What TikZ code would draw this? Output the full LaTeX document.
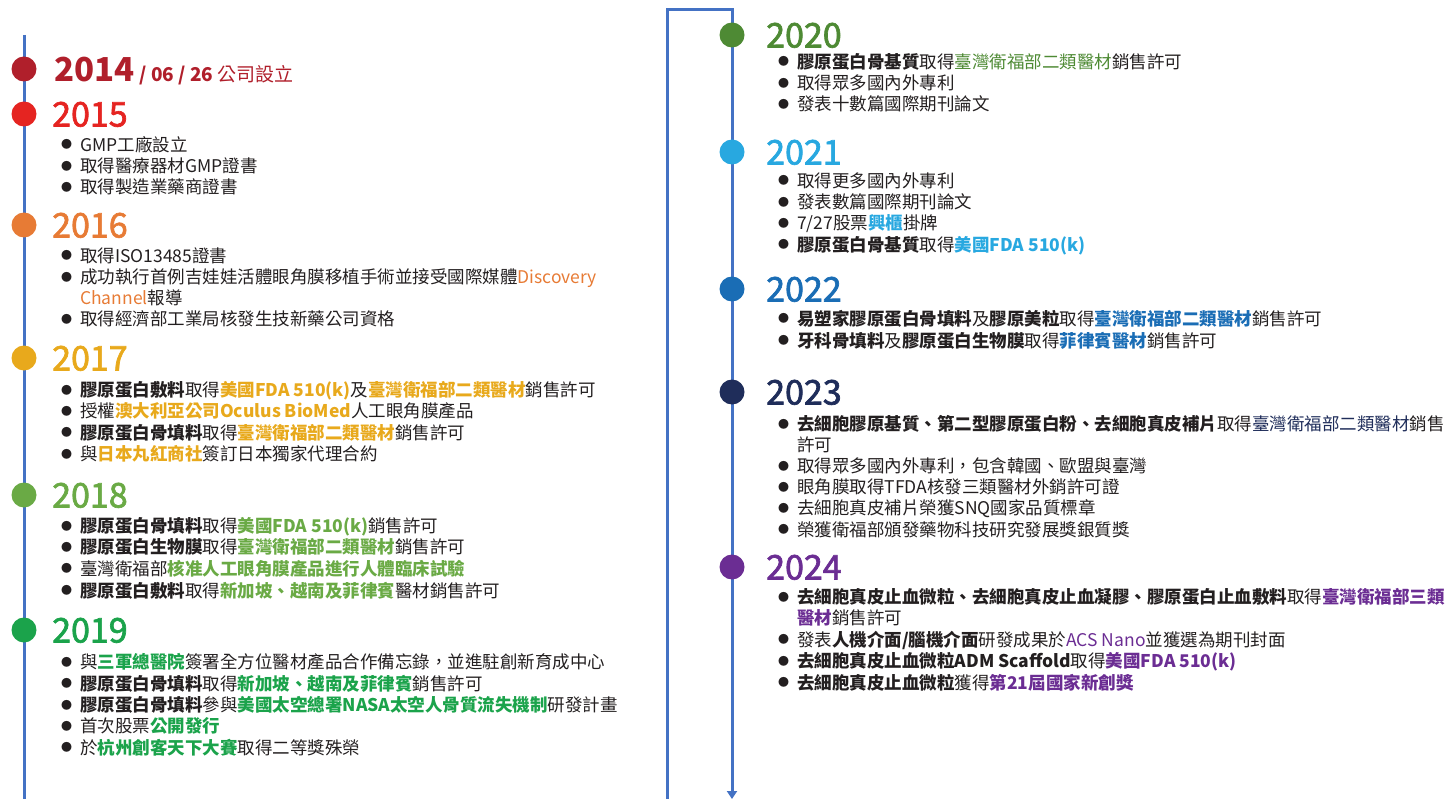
\documentclass[tikz,border=0pt]{standalone}
\usepackage{fontspec}
\setmainfont{Noto Sans CJK TC}
\newfontfamily\yearfont[FakeBold=2]{Noto Sans CJK TC}
\usetikzlibrary{arrows.meta}

\definecolor{spineblue}{HTML}{4472C4}
\definecolor{ink}{HTML}{231F20}
\definecolor{c14}{HTML}{B01F2B}
\definecolor{c15}{HTML}{E52421}
\definecolor{c16}{HTML}{E77B35}
\definecolor{c17}{HTML}{E8A91C}
\definecolor{c18}{HTML}{6AAA45}
\definecolor{c19}{HTML}{1BA34B}
\definecolor{c20}{HTML}{4E8A34}
\definecolor{c21}{HTML}{28A8E0}
\definecolor{c22}{HTML}{1A6DB5}
\definecolor{c23}{HTML}{1F2D5A}
\definecolor{c24}{HTML}{6B2D93}

\newcommand\bul{\makebox[19pt][l]{\raisebox{2.5pt}{\fontsize{11}{11}\selectfont ●}}}
\newcommand\bd[1]{\textbf{#1}}
\newcommand\hl[1]{\textcolor{hc}{\bfseries #1}}
\newcommand\hc[1]{\textcolor{hc}{#1}}

\tikzset{
	spine/.style={draw=spineblue, line width=3pt},
	yeardot/.style={circle, fill=#1, minimum size=25pt, inner sep=0pt},
	yearlabel/.style={anchor=base west, inner sep=0pt, text=#1, font=\yearfont\fontsize{34}{34}\selectfont},
	facts/.style={anchor=base west, inner sep=0pt, text=ink, font=\fontsize{17.5}{21}\selectfont, execute at begin node=\colorlet{hc}{#1}},
}

\begin{document}
\begin{tikzpicture}[x=1pt, y=-1pt]
	\useasboundingbox (0,0) rectangle (1447,799);
	\coordinate (ltop) at (24,35);
	\coordinate (lend) at (24,799);
	\coordinate (rbot) at (667,799);
	\coordinate (rtop) at (667,10);
	\coordinate (rturn) at (732,10);
	\coordinate (rend) at (732,799);
	\draw[spine] (ltop) -- (lend);
	\draw[spine, -{Triangle[width=10pt,length=8pt]}] (rbot) -- (rtop) -- (rturn) -- (rend);

	\node[yeardot=c14] (d14) at (24,69) {};
	\node[yearlabel=c14] (t14) at (54,81.5) {\normalfont\bfseries\fontsize{33}{33}\selectfont 2014\hspace{5pt}{\fontsize{19}{19}\selectfont / 06 / 26 \mdseries 公司設立}};

	\node[yeardot=c15] (d15) at (24,114) {};
	\node[yearlabel=c15] (t15) at (52,126.5) {2015};
	\node[facts=c15] (f15) at (61,151.5) {\begin{tabular}[t]{@{}l@{}l@{}}
		\bul & GMP工廠設立\\
		\bul & 取得醫療器材GMP證書\\
		\bul & 取得製造業藥商證書
	\end{tabular}};

	\node[yeardot=c16] (d16) at (24,225) {};
	\node[yearlabel=c16] (t16) at (52,237.5) {2016};
	\node[facts=c16] (f16) at (61,262.5) {\begin{tabular}[t]{@{}l@{}l@{}}
		\bul & 取得ISO13485證書\\
		\bul & 成功執行首例吉娃娃活體眼角膜移植手術並接受國際媒體\hc{Discovery}\\
		& \hc{Channel}報導\\
		\bul & 取得經濟部工業局核發生技新藥公司資格
	\end{tabular}};

	\node[yeardot=c17] (d17) at (24,358) {};
	\node[yearlabel=c17] (t17) at (52,370.5) {2017};
	\node[facts=c17] (f17) at (61,396.5) {\begin{tabular}[t]{@{}l@{}l@{}}
		\bul & \bd{膠原蛋白敷料}取得\hl{美國FDA 510(k)}及\hl{臺灣衛福部二類醫材}銷售許可\\
		\bul & 授權\hl{澳大利亞公司Oculus BioMed}人工眼角膜產品\\
		\bul & \bd{膠原蛋白骨填料}取得\hl{臺灣衛福部二類醫材}銷售許可\\
		\bul & 與\hl{日本丸紅商社}簽訂日本獨家代理合約
	\end{tabular}};

	\node[yeardot=c18] (d18) at (24,495) {};
	\node[yearlabel=c18] (t18) at (52,507.5) {2018};
	\node[facts=c18] (f18) at (61,532.5) {\begin{tabular}[t]{@{}l@{}l@{}}
		\bul & \bd{膠原蛋白骨填料}取得\hl{美國FDA 510(k)}銷售許可\\
		\bul & \bd{膠原蛋白生物膜}取得\hl{臺灣衛福部二類醫材}銷售許可\\
		\bul & 臺灣衛福部\hl{核准人工眼角膜產品進行人體臨床試驗}\\
		\bul & \bd{膠原蛋白敷料}取得\hl{新加坡、越南及菲律賓}醫材銷售許可
	\end{tabular}};

	\node[yeardot=c19] (d19) at (24,630) {};
	\node[yearlabel=c19] (t19) at (52,642.5) {2019};
	\node[facts=c19] (f19) at (61,668.5) {\begin{tabular}[t]{@{}l@{}l@{}}
		\bul & 與\hl{三軍總醫院}簽署全方位醫材產品合作備忘錄，並進駐創新育成中心\\
		\bul & \bd{膠原蛋白骨填料}取得\hl{新加坡、越南及菲律賓}銷售許可\\
		\bul & \bd{膠原蛋白骨填料}參與\hl{美國太空總署NASA太空人骨質流失機制}研發計畫\\
		\bul & 首次股票\hl{公開發行}\\
		\bul & 於\hl{杭州創客天下大賽}取得二等獎殊榮
	\end{tabular}};

	\node[yeardot=c20] (d20) at (732,35) {};
	\node[yearlabel=c20] (t20) at (766,47.5) {2020};
	\node[facts=c20] (f20) at (778,68.5) {\begin{tabular}[t]{@{}l@{}l@{}}
		\bul & \bd{膠原蛋白骨基質}取得\hc{臺灣衛福部二類醫材}銷售許可\\
		\bul & 取得眾多國內外專利\\
		\bul & 發表十數篇國際期刊論文
	\end{tabular}};

	\node[yeardot=c21] (d21) at (732,152) {};
	\node[yearlabel=c21] (t21) at (766,164.5) {2021};
	\node[facts=c21] (f21) at (778,187.5) {\begin{tabular}[t]{@{}l@{}l@{}}
		\bul & 取得更多國內外專利\\
		\bul & 發表數篇國際期刊論文\\
		\bul & 7/27股票\hl{興櫃}掛牌\\
		\bul & \bd{膠原蛋白骨基質}取得\hl{美國FDA 510(k)}
	\end{tabular}};

	\node[yeardot=c22] (d22) at (732,289) {};
	\node[yearlabel=c22] (t22) at (766,301.5) {2022};
	\node[facts=c22] (f22) at (778,325.5) {\begin{tabular}[t]{@{}l@{}l@{}}
		\bul & \bd{易塑家膠原蛋白骨填料}及\bd{膠原美粒}取得\hl{臺灣衛福部二類醫材}銷售許可\\
		\bul & \bd{牙科骨填料}及\bd{膠原蛋白生物膜}取得\hl{菲律賓醫材}銷售許可
	\end{tabular}};

	\node[yeardot=c23] (d23) at (732,392) {};
	\node[yearlabel=c23] (t23) at (766,404.5) {2023};
	\node[facts=c23] (f23) at (778,430.5) {\begin{tabular}[t]{@{}l@{}l@{}}
		\bul & \bd{去細胞膠原基質、第二型膠原蛋白粉、去細胞真皮補片}取得\hc{臺灣衛福部二類醫材}銷售\\
		& 許可\\
		\bul & 取得眾多國內外專利，包含韓國、歐盟與臺灣\\
		\bul & 眼角膜取得TFDA核發三類醫材外銷許可證\\
		\bul & 去細胞真皮補片榮獲SNQ國家品質標章\\
		\bul & 榮獲衛福部頒發藥物科技研究發展獎銀質獎
	\end{tabular}};

	\node[yeardot=c24] (d24) at (732,567) {};
	\node[yearlabel=c24] (t24) at (766,579.5) {2024};
	\node[facts=c24] (f24) at (778,603.5) {\begin{tabular}[t]{@{}l@{}l@{}}
		\bul & \bd{去細胞真皮止血微粒、去細胞真皮止血凝膠、膠原蛋白止血敷料}取得\hl{臺灣衛福部三類}\\
		& \hl{醫材}銷售許可\\
		\bul & 發表\bd{人機介面/腦機介面}研發成果於\hc{ACS Nano}並獲選為期刊封面\\
		\bul & \bd{去細胞真皮止血微粒ADM Scaffold}取得\hl{美國FDA 510(k)}\\
		\bul & \bd{去細胞真皮止血微粒}獲得\hl{第21屆國家新創獎}
	\end{tabular}};
\end{tikzpicture}
\end{document}
